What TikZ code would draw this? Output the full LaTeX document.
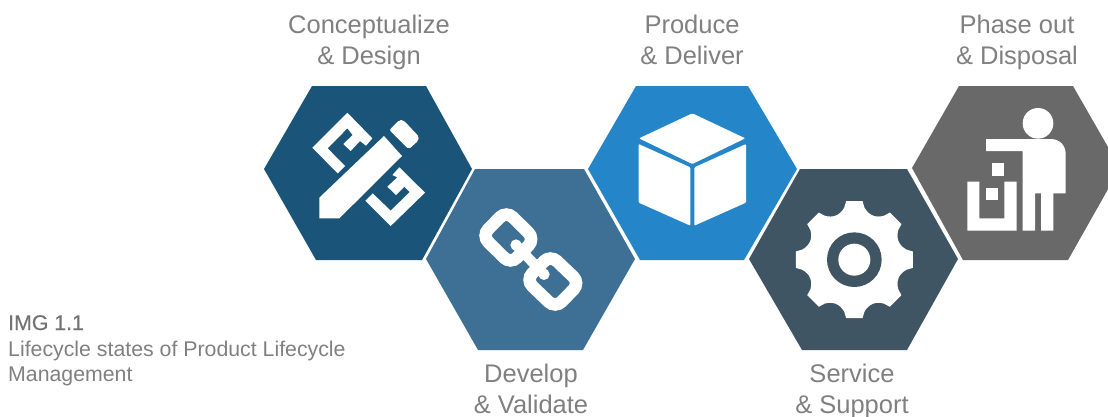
\documentclass[tikz,border=0pt]{standalone}
\usepackage{fontspec}
\setmainfont{Liberation Sans}
\definecolor{hexA}{HTML}{1A5579}
\definecolor{hexB}{HTML}{3D7094}
\definecolor{hexC}{HTML}{2485C8}
\definecolor{hexD}{HTML}{3F5563}
\definecolor{hexE}{HTML}{696969}
\definecolor{labelgray}{HTML}{808080}
\newcommand{\labtop}{\rule{0pt}{21pt}}
\tikzset{
  biglabel/.style={text=labelgray,align=center,anchor=north,font=\fontsize{25.5}{31}\selectfont,inner sep=0pt},
  caption/.style={text=labelgray,anchor=base west,font=\fontsize{21.3}{25}\selectfont,inner sep=0pt},
  icon/.style={fill=white},
  linkstroke/.style={draw=white,line width=12.5pt,rounded corners=9pt}
}
\begin{document}
\begin{tikzpicture}[x=1pt,y=-1pt]
\useasboundingbox (0,0) rectangle (1108,416);
\clip (0,0) rectangle (1108,416);
% hexagons
\fill[hexA] (264,169)--(312,86)--(426,86)--(472,169)--(422,260)--(316,260)--cycle;
\fill[hexB] (426,259)--(475,169)--(584,169)--(635,259)--(583,350)--(478,350)--cycle;
\fill[hexC] (588,169)--(636,86)--(748,86)--(797,169)--(744,260)--(640,260)--cycle;
\fill[hexD] (749,259)--(800,169)--(907,169)--(958,259)--(907,350)--(802,350)--cycle;
\fill[hexE] (912,168)--(959,86)--(1073,86)--(1120,168)--(1068,260)--(963,260)--cycle;
% pencil and rulers
\begin{scope}[shift={(260,80)},scale=1/3]
\fill[icon] (178,415)--(178,353)--(372,168)--(426,228)--(238,415)--cycle;
\fill[icon,rounded corners=2pt] (388,150)--(418,120)--(430,120)--(477,170)--(475,182)--(446,208)--cycle;
\fill[icon] (157,203)--(262,98)--(337,175)--(318,197)--(300,183)--(272,213)--(250,192)--(278,165)--(262,145)--(203,205)--(255,258)--(233,280)--cycle;
\fill[icon] (495,338)--(392,438)--(316,362)--(338,340)--(392,392)--(449,336)--(433,320)--(408,345)--(382,320)--(412,292)--(397,285)--(418,262)--cycle;
\end{scope}
% chain
\begin{scope}[shift={(420,165)},scale=1/3]
\path[linkstroke] (185.5,212)--(259,137.5)--(344.5,222)--(272,297.5)--cycle;
\path[linkstroke] (317.5,345)--(391,269.5)--(479.5,354)--(406,429.5)--cycle;
\draw[white,line width=10pt] (288,240)--(372,328);
\fill[icon] (288,240) circle (17);
\fill[icon] (372,328) circle (17);
\end{scope}
% cube
\begin{scope}[shift={(585,80)},scale=1/3]
\fill[icon,rounded corners=1pt] (322,100)--(481,175)--(322,252)--(162,175)--cycle;
\fill[icon,rounded corners=1pt] (161,192)--(316,262)--(316,437)--(161,368)--cycle;
\fill[icon,rounded corners=1pt] (483,192)--(328,262)--(328,437)--(483,368)--cycle;
\end{scope}
% gear
\begin{scope}[shift={(745,165)},scale=1/3]
\begin{scope}[shift={(328,284)}]
\fill[icon] (-8:177)
 \foreach \a in {0,45,...,315}{
   -- ({\a-8}:177) -- ({\a+8}:177) -- ({\a+11}:159)
   .. controls ({\a+18}:140) and ({\a+27}:140) .. ({\a+34}:159)
 } -- cycle;
\fill[hexD] (0,0) circle (82);
\fill[icon] (0,0) circle (48);
\end{scope}
\end{scope}
% person and bin
\begin{scope}[shift={(905,80)},scale=1/3]
\fill[icon] (399,130) circle (46);
\fill[icon] (243,177)--(437,177) .. controls (465,177) and (482,197) .. (482,222)--(482,340)--(445,340)--(445,452)--(408,452)--(408,340)--(390,340)--(390,452)--(353,452)--(353,213)--(243,213)--cycle;
\fill[icon] (187,305)--(223,305)--(223,415)--(298,415)--(298,305)--(335,305)--(335,452)--(187,452)--cycle;
\fill[icon] (261,250) rectangle (298,287);
\fill[icon] (243,324) rectangle (280,360);
\end{scope}
% labels
\node[biglabel] (conc) at (369,12) {\labtop Conceptualize\\\& Design};
\node[biglabel] (prod) at (692,12) {\labtop Produce\\\& Deliver};
\node[biglabel] (phas) at (1017,12) {\labtop Phase out\\\& Disposal};
\node[biglabel] (deve) at (531,361) {\labtop Develop\\\& Validate};
\node[biglabel] (serv) at (852,361) {\labtop Service\\\& Support};
\node[caption,text=labelgray!90!black] (img) at (8,330) {\addfontfeature{FakeBold=0.6}IMG 1.1};
\node[caption] (capa) at (8,356) {Lifecycle states of Product Lifecycle};
\node[caption] (capb) at (8,381) {Management};
\end{tikzpicture}
\end{document}
